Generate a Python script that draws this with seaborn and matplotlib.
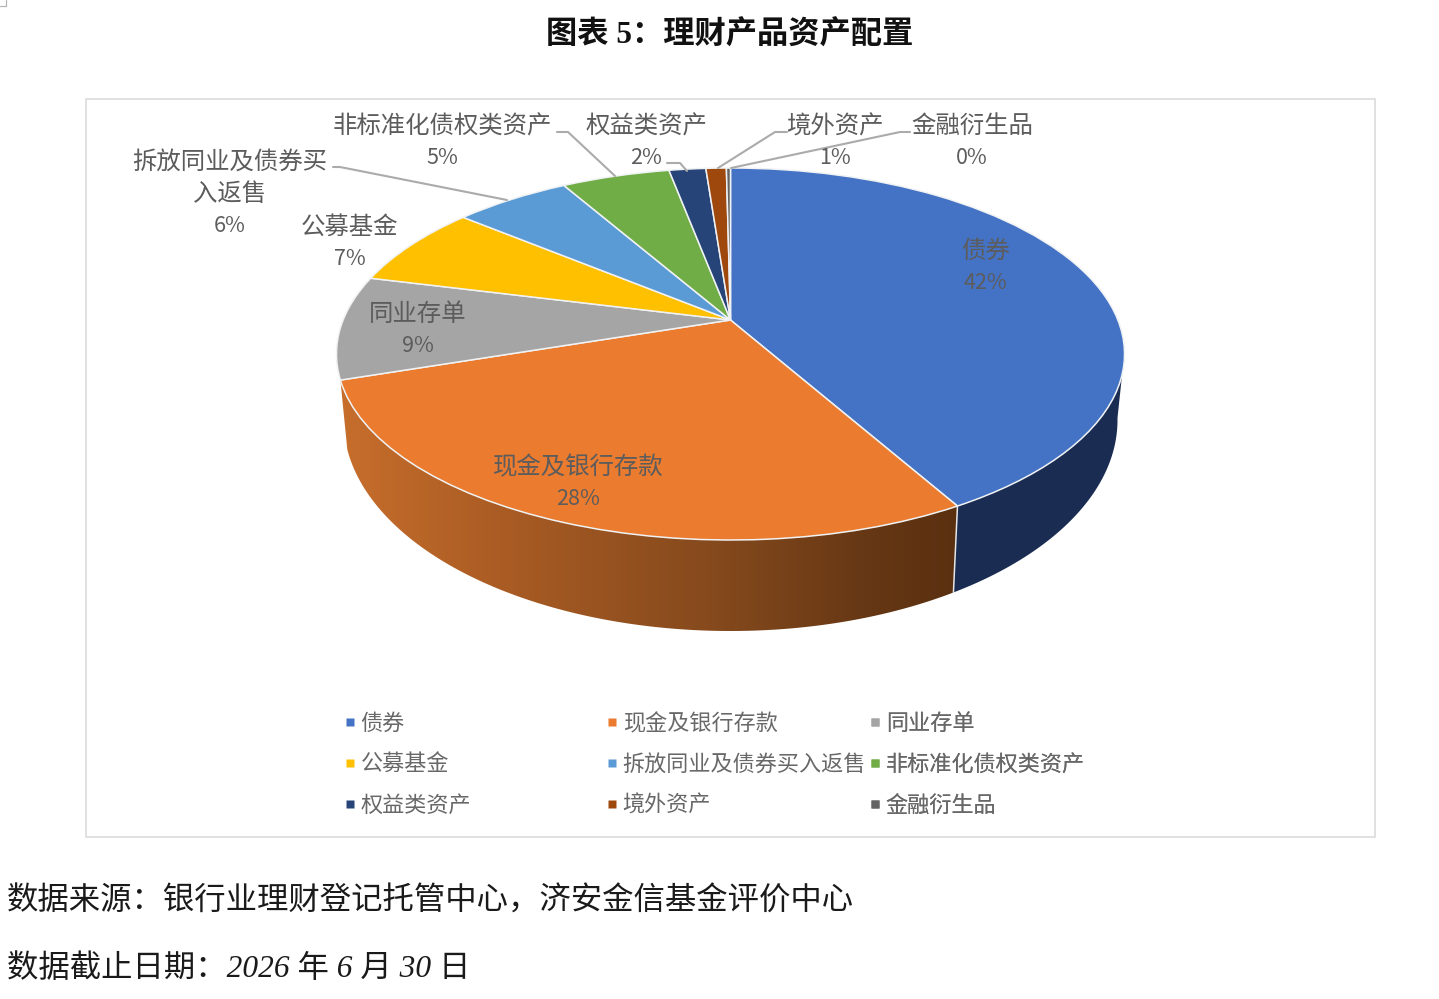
import numpy as np
import matplotlib
matplotlib.use("Agg")
import matplotlib.pyplot as plt
import seaborn as sns
from matplotlib.lines import Line2D
from matplotlib.patches import Polygon, Rectangle
from matplotlib.transforms import Transform

# ---------- data ----------
categories = ["债券", "现金及银行存款", "同业存单", "公募基金", "拆放同业及债券买入返售",
              "非标准化债权类资产", "权益类资产", "境外资产", "金融衍生品"]
shares = [41.8, 28.1, 9.0, 7.1, 5.7, 5.3, 1.8, 1.0, 0.2]
slice_colors = ["#4472C4", "#EA7B2F", "#A5A5A5", "#FFC000", "#5B9BD5",
                "#70AD47", "#264478", "#9E480E", "#636363"]
title = "图表 5：理财产品资产配置"
source_line = "数据来源：银行业理财登记托管中心，济安金信基金评价中心"
date_line = "数据截止日期：2026 年 6 月 30 日"

# ---------- layout / style ----------
W, H = 1439, 999
CX = 730.5
TOP = dict(cy=354.0, a=394.0, b=186.0)
BOT = dict(cy=420.0, a=387.0, b=211.0)
K = 34.0 / 186.0

sns.set_theme(style="white")
plt.rcParams["font.family"] = ["Noto Sans CJK SC", "DejaVu Sans"]
LABEL_COLOR = "#5c5c5c"
LEGEND_COLOR = "#686868"
LEADER_COLOR = "#ababab"


def project(u, v, plane):
    """Perspective view of a unit circle lying on a tilted plane (figure pixels)."""
    den = 1 + K * v
    big_a = plane["a"] * np.sqrt(1 - K ** 2)
    x = CX + big_a * u / den
    y = plane["cy"] - (plane["b"] * v + plane["b"] * K) / den
    return x, y


class PieTilt(Transform):
    input_dims = 2
    output_dims = 2
    is_separable = False
    has_inverse = False

    def transform_non_affine(self, values):
        values = np.asarray(values, dtype=float)
        x, y = project(values[:, 0], values[:, 1], TOP)
        return np.column_stack([x, y])


fig = plt.figure(figsize=(W / 100, H / 100), dpi=100, facecolor="white")
ax = fig.add_axes([0, 0, 1, 1])

wedges, _ = ax.pie(shares, colors=sns.color_palette(slice_colors), startangle=90,
                   counterclock=False, radius=1.0,
                   wedgeprops=dict(edgecolor="#f0f2f4", linewidth=1.1))
ax.set_aspect("auto")
tilt = PieTilt() + ax.transData
for w in wedges:
    w.set_transform(tilt)
    w.set_zorder(3)


def side_polygon(t1, t2):
    t = np.radians(np.linspace(t1, t2, 200))
    xa, ya = project(np.cos(t), np.sin(t), TOP)
    xb, yb = project(np.cos(t), np.sin(t), BOT)
    return np.column_stack([np.r_[xa, xb[::-1]], np.r_[ya, yb[::-1]]])


# side of first slice: flat dark navy
blue_end = wedges[0].theta1
ax.add_patch(Polygon(side_polygon(blue_end, -10), closed=True, fc="#1A2C52", ec="none", zorder=1))

# side of second slice: horizontal shading
orange_start = wedges[1].theta1
poly_xy = side_polygon(orange_start, blue_end)
clip = Polygon(poly_xy, closed=True, fc="none", ec="none", zorder=1)
ax.add_patch(clip)
stops_x = [340, 500, 730, 880, 960]
stops_rgb = np.array([[199, 110, 44], [170, 92, 36], [130, 72, 28], [100, 54, 20], [90, 48, 16]]) / 255
xs = np.linspace(340, 960, 300)
grad = np.stack([np.interp(xs, stops_x, stops_rgb[:, i]) for i in range(3)], axis=-1)[None, :, :]
im = ax.imshow(grad, extent=(340, 960, 640, 370), aspect="auto", interpolation="bilinear", zorder=1)
im.set_clip_path(clip)

# seam between the two visible sides
t = np.radians(blue_end)
xa, ya = project(np.cos(t), np.sin(t), TOP)
xb, yb = project(np.cos(t), np.sin(t), BOT)
ax.plot([xa, xb], [ya, yb], color="#e6e6e6", lw=1.1, zorder=2)

# panel frame
ax.add_patch(Rectangle((86, 99), 1289, 738, fc="none", ec="#d9d9d9", lw=1.1, zorder=0))
# small crop mark in the corner
ax.plot([0, 6, 6], [6, 6, 0], color="#b5b5b5", lw=0.9, zorder=0)

# data labels: (category index, centre x, name line y's)
pct = [f"{round(s)}%" for s in shares]
label_spec = [
    (0, 985, [("债券", 249)], 281),
    (1, 578, [("现金及银行存款", 465)], 497),
    (2, 418, [("同业存单", 312)], 344),
    (3, 350, [("公募基金", 225)], 257),
    (4, 230, [("拆放同业及债券买", 160), ("入返售", 192)], 224),
    (5, 442, [("非标准化债权类资产", 124)], 156),
    (6, 646, [("权益类资产", 124)], 156),
    (7, 835, [("境外资产", 124)], 156),
    (8, 972, [("金融衍生品", 124)], 156),
]
for i, x, lines, py in label_spec:
    for s, y in lines:
        ax.text(x, y + 2, s, fontsize=17.6, color=LABEL_COLOR, ha="center", va="center", zorder=5)
    ax.text(x, py + 2, pct[i], fontsize=15.5, color=LABEL_COLOR, ha="center", va="center", zorder=5)

# leader lines
leaders = [
    [(333, 167), (340, 167), (507, 200)],
    [(557, 132), (568, 132), (615, 176)],
    [(667, 163), (680, 163), (687, 171)],
    [(787, 132), (775, 132), (718, 168)],
    [(910, 132), (900, 132), (731, 168)],
]
for pts in leaders:
    px, py = zip(*pts)
    ax.plot(px, py, color=LEADER_COLOR, lw=1.5, zorder=4, solid_joinstyle="round")

# legend: three columns at fixed positions
for col, x in enumerate([343, 605, 868]):
    idx = list(range(col, 9, 3))
    handles = [Line2D([], [], ls="none", marker="s", ms=5.2, mfc=slice_colors[i], mec="none") for i in idx]
    leg = ax.legend(handles, [categories[i] for i in idx], loc="upper left",
                    bbox_to_anchor=(x, 713), bbox_transform=ax.transData, frameon=False,
                    fontsize=15.9, labelcolor=LEGEND_COLOR, handlelength=0.6, handletextpad=0.2,
                    borderpad=0, borderaxespad=0, labelspacing=0.86)
    ax.add_artist(leg)

# headings and notes
ax.text(730, 36, title, fontsize=22.5, fontweight="bold", color="#111111", ha="center", va="center",
        family=["Liberation Serif", "Noto Sans CJK SC"], zorder=5)
for y, s in [(902, source_line), (969, date_line)]:
    ax.text(7, y, s, fontsize=22.6, color="#1a1a1a", ha="left", va="center", style="italic",
            family=["Liberation Serif", "Noto Sans CJK SC"], zorder=5)

ax.set_xlim(0, W)
ax.set_ylim(H, 0)
ax.set_axis_off()
fig.savefig("out.png", dpi=100, facecolor="white")
